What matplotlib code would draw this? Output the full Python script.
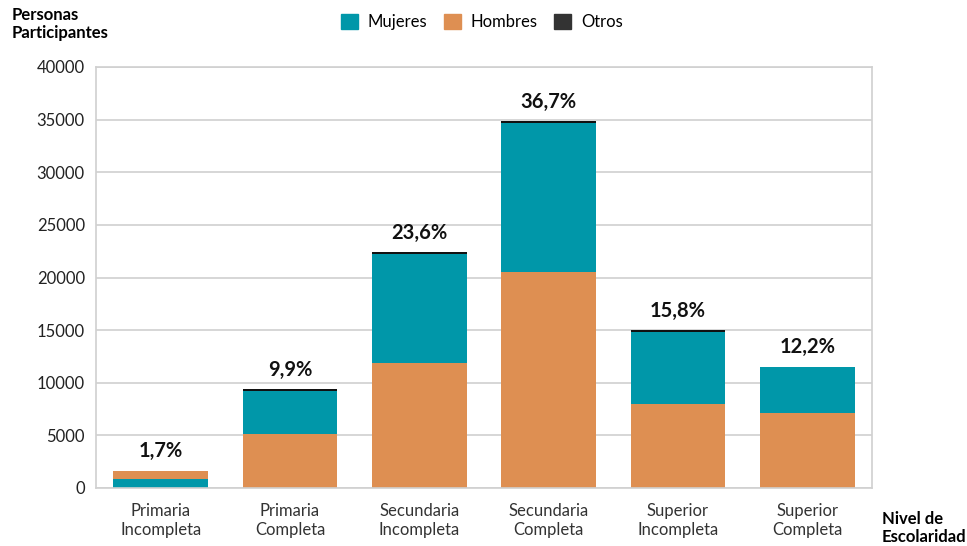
import numpy as np
import matplotlib.pyplot as plt
from matplotlib.patches import Patch

plt.rcParams['font.family'] = ['Lato', 'DejaVu Sans']

# Datos
niveles = ["Primaria\nIncompleta", "Primaria\nCompleta", "Secundaria\nIncompleta",
           "Secundaria\nCompleta", "Superior\nIncompleta", "Superior\nCompleta"]
mujeres = np.array([850, 4110, 10330, 14160, 6840, 4370])
hombres = np.array([780, 5130, 11900, 20520, 7980, 7130])
otros = np.array([30, 150, 190, 190, 190, 30])
porcentajes = ["1,7%", "9,9%", "23,6%", "36,7%", "15,8%", "12,2%"]
# en la primera barra las mujeres van abajo
mujeres_abajo = np.array([True, False, False, False, False, False])

c_muj = "#0097a9"
c_hom = "#de8f52"
c_otr = "#111111"

fig = plt.figure(figsize=(9.67, 5.46), dpi=100)
ax = fig.add_axes([96 / 967, 58 / 546, 776 / 967, 421 / 546])

x = np.arange(len(niveles))
w = 0.73

base_muj = np.where(mujeres_abajo, 0, hombres)
base_hom = np.where(mujeres_abajo, mujeres, 0)
total = mujeres + hombres

ax.bar(x, hombres, w, bottom=base_hom, color=c_hom, zorder=2)
ax.bar(x, mujeres, w, bottom=base_muj, color=c_muj, zorder=2)
ax.bar(x, otros, w, bottom=total, color=c_otr, zorder=2)

for xi, t, o, p in zip(x, total, otros, porcentajes):
    ax.text(xi, t + o + 900, p, ha="center", va="bottom",
            fontsize=14.5, fontweight="bold", color="#111111")

ax.set_xlim(-0.5, len(niveles) - 0.5)
ax.set_ylim(0, 40000)
ax.set_yticks(np.arange(0, 40001, 5000))
ax.set_xticks(x)
ax.set_xticklabels(niveles, fontsize=12, color="#333333", linespacing=1.2)
ax.tick_params(axis="y", labelsize=12, labelcolor="#222222", length=0, pad=8)
ax.tick_params(axis="x", length=0, pad=11)
ax.grid(axis="y", color="#d0d0d0", linewidth=1.2, zorder=0)
for s in ax.spines.values():
    s.set_color("#d0d0d0")
    s.set_linewidth(1.2)

fig.text(12 / 967, 1 - 7 / 546, "Personas\nParticipantes", fontsize=12,
         fontweight="bold", ha="left", va="top", linespacing=1.15)
fig.text(882 / 967, 1 - 511 / 546, "Nivel de\nEscolaridad", fontsize=12,
         fontweight="bold", ha="left", va="top", linespacing=1.15)

handles = [Patch(color=c_muj), Patch(color=c_hom), Patch(color="#333333")]
fig.legend(handles, ["Mujeres", "Hombres", "Otros"], loc="center",
           bbox_to_anchor=(482 / 967, 1 - 22 / 546), ncol=3, frameon=False,
           fontsize=12, handlelength=1.0, handleheight=1.0, columnspacing=1.0,
           handletextpad=0.6)

fig.savefig("out.png", dpi=100)
